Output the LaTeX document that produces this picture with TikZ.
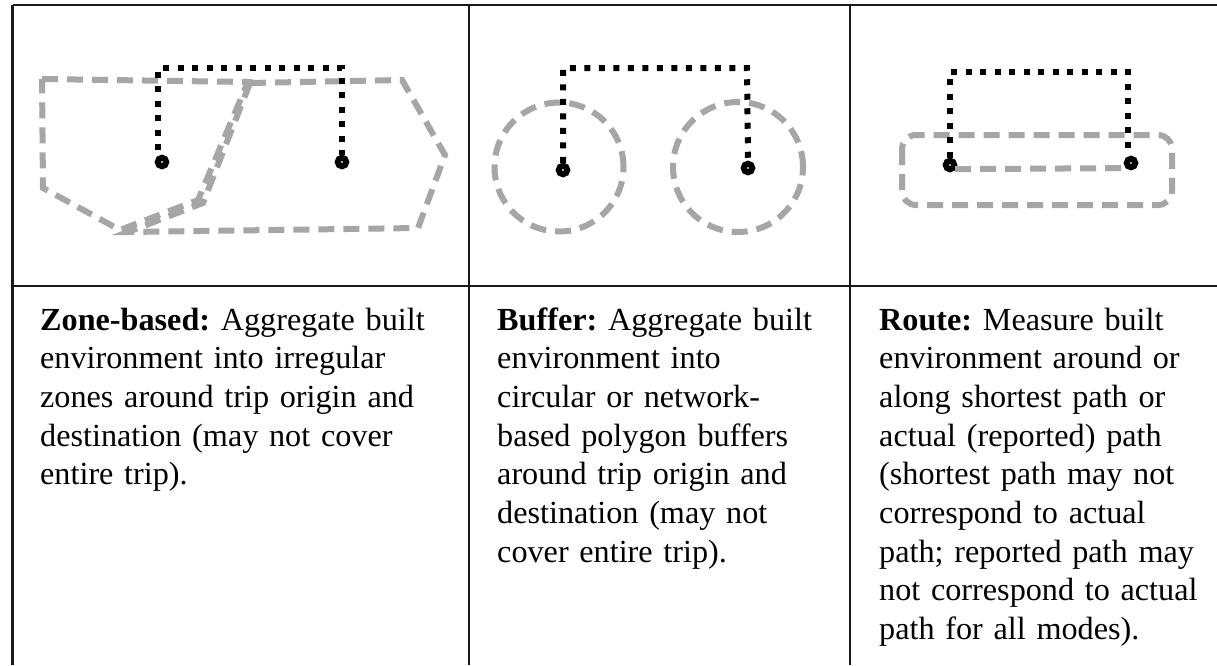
\documentclass[tikz,border=0pt]{standalone}
\usepackage{fontspec}
\setmainfont{Liberation Serif}
\frenchspacing
\begin{document}
\begin{tikzpicture}[x=1pt,y=-1pt,
  rule/.style={line width=2.6pt,draw=black!90},
  zone/.style={draw=zonegray,line width=6pt,dash pattern=on 16pt off 9pt},
  trip/.style={draw=black,line width=6pt,dash pattern=on 6pt off 8.5pt},
  endpt/.style={circle,draw=black,fill=white,line width=6pt,minimum size=8.5pt,inner sep=0pt},
  desc/.style={anchor=base west,inner sep=0pt,text width=420pt,align=left,
    font=\fontsize{32.2}{38.7}\selectfont}]
\definecolor{zonegray}{HTML}{A6A6A6}
\useasboundingbox (0,0) rectangle (1217,665);
\fill[white] (0,0) rectangle (1217,665);

% table rules
\draw[rule] (12.5,5) -- (1217,5);
\draw[rule] (12.5,5) -- (12.5,665);
\draw[rule] (469,5) -- (469,665);
\draw[rule] (850,5) -- (850,665);
\draw[rule] (12.5,286) -- (1217,286);

% --- zone-based panel ---
\draw[zone] (42,79) -- (248,82) -- (198,200) -- (120,230) -- (43,188) -- cycle;
\draw[zone] (250,83) -- (402,80) -- (445,155) -- (418,228) -- (128,232) -- (203,203) -- cycle;
\node[endpt] (zo) at (162,162) {};
\node[endpt] (zd) at (342,162) {};
\coordinate (za) at (158,68);
\coordinate (zb) at (342,68);
\draw[trip] (158,150) -- (za) -- (zb) -- (zd.north);

% --- buffer panel ---
\node[zone,circle,minimum size=129pt,inner sep=0pt] (bo) at (559,167) {};
\node[zone,circle,minimum size=130pt,inner sep=0pt] (bd) at (738,167) {};
\node[endpt] (po) at (563,170) {};
\node[endpt] (pd) at (748,168) {};
\coordinate (pa) at (563,68);
\coordinate (pb) at (747,68);
\draw[trip] (po.north) -- (pa) -- (pb) -- (pd.north);

% --- route panel ---
\draw[zone,rounded corners=14pt] (902,135) rectangle (1172,205);
\node[endpt] (ro) at (950,165) {};
\node[endpt] (rd) at (1131,163) {};
\draw[zone] (ro.south east) ++(0,-1) -- (rd.south west);
\coordinate (ra) at (950,72);
\coordinate (rb) at (1128,72);
\draw[trip] (ro.north) -- (ra) -- (rb) -- (1128,153);

% descriptions
\node[desc] (tz) at (40,330) {\textbf{Zone-based:} Aggregate built\\
environment into irregular\\
zones around trip origin and\\
destination (may not cover\\
entire trip).};
\node[desc] (tb) at (497,330) {\textbf{Buffer:} Aggregate built\\
environment into\\
circular or network-\\
based polygon buffers\\
around trip origin and\\
destination (may not\\
cover entire trip).};
\node[desc] (tr) at (879,330) {\textbf{Route:} Measure built\\
environment around or\\
along shortest path or\\
actual (reported) path\\
(shortest path may not\\
correspond to actual\\
path; reported path may\\
not correspond to actual\\
path for all modes).};
\end{tikzpicture}
\end{document}
